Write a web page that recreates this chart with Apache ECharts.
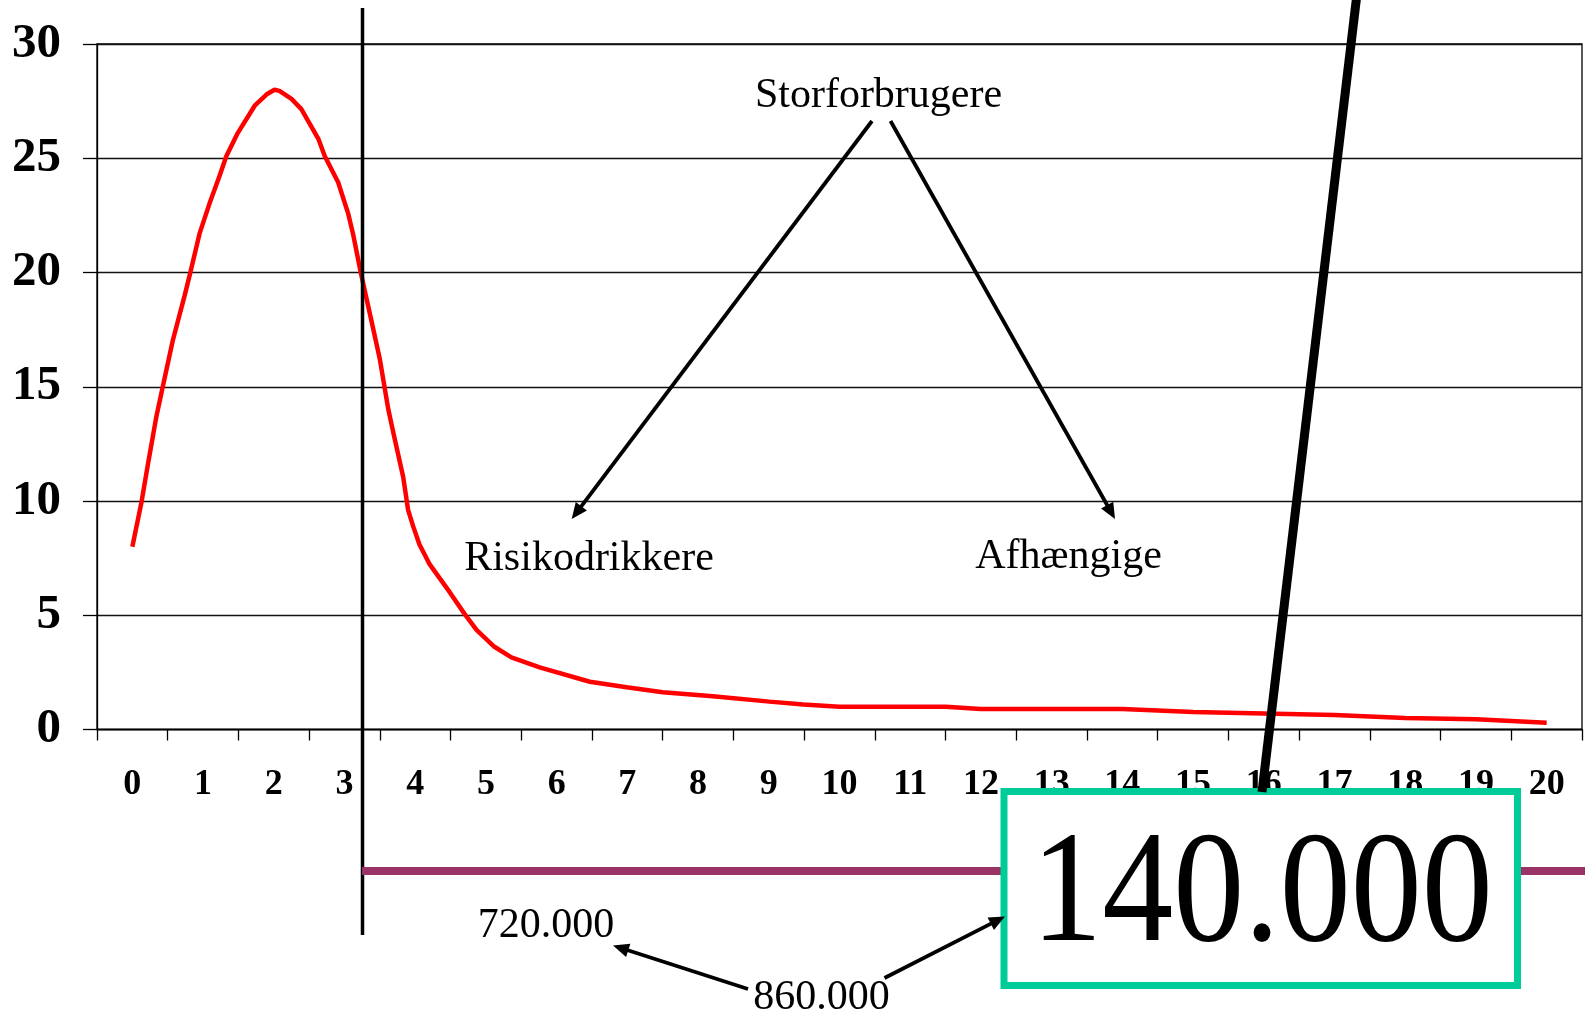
<!DOCTYPE html>
<html>
<head>
<meta charset="utf-8">
<script src="https://cdn.jsdelivr.net/npm/echarts@6/dist/echarts.min.js"></script>
<style>
  html, body { margin: 0; padding: 0; background: #fff; }
  #chart { width: 1585px; height: 1014px; }
</style>
</head>
<body>
<div id="chart"></div>
<script>
// kategorier på x-aksen
var categories = ["0", "1", "2", "3", "4", "5", "6", "7", "8", "9", "10",
  "11", "12", "13", "14", "15", "16", "17", "18", "19", "20"];

// kurvens punkter (x i kategori-enheder, y i procent)
var curveX = [0, 0.13, 0.22, 0.34, 0.43, 0.57, 0.74, 0.82, 0.95, 1.10, 1.23,
  1.33, 1.49, 1.73, 1.90, 2.01, 2.08, 2.25, 2.39, 2.63, 2.72, 2.91, 3.05,
  3.12, 3.23, 3.38, 3.50, 3.62, 3.69, 3.83, 3.90, 3.97, 4.06, 4.20, 4.49,
  4.70, 4.87, 5.12, 5.36, 5.76, 6.47, 6.99, 7.5, 8.21, 9.01, 9.49, 10.0,
  11.5, 12.0, 14.0, 15.0, 17.0, 18.0, 19.0, 20.0];
var curveY = [8.0, 9.96, 11.6, 13.7, 15.0, 17.0, 19.0, 20.0, 21.7, 23.1, 24.2,
  25.1, 26.1, 27.3, 27.8, 28.0, 27.95, 27.6, 27.15, 25.85, 25.1, 23.95, 22.6,
  21.7, 20.0, 17.9, 16.2, 14.0, 13.0, 11.05, 9.6, 8.9, 8.1, 7.25, 6.0,
  5.05, 4.35, 3.62, 3.16, 2.72, 2.09, 1.85, 1.63, 1.46, 1.22, 1.09, 1.0,
  1.0, 0.9, 0.9, 0.77, 0.63, 0.5, 0.45, 0.3];

// tekster
var labelTop = "Storforbrugere";
var labelLeft = "Risikodrikkere";
var labelRight = "Afhængige";
var labelBig = "140.000";
var label720 = "720.000";
var label860 = "860.000";

var serif = '"Liberation Serif", "Times New Roman", serif';

var chart = echarts.init(document.getElementById("chart"));

// pil: linje + trekant
function arrow(x1, y1, x2, y2) {
  var dx = x2 - x1, dy = y2 - y1;
  var len = Math.sqrt(dx * dx + dy * dy);
  var ux = dx / len, uy = dy / len;
  var hl = 16, hw = 7;
  var bx = x2 - ux * hl, by = y2 - uy * hl;
  return [
    {
      type: "line", z: 100,
      shape: { x1: x1, y1: y1, x2: bx + ux * 2, y2: by + uy * 2 },
      style: { stroke: "#000", lineWidth: 3.8 }
    },
    {
      type: "polygon", z: 100,
      shape: { points: [[x2, y2], [bx - uy * hw, by + ux * hw], [bx + uy * hw, by - ux * hw]] },
      style: { fill: "#000" }
    }
  ];
}

function txt(x, y, s, size) {
  return {
    type: "text", z: 100, x: x, y: y,
    style: {
      text: s, fill: "#000", font: size + "px " + serif,
      textAlign: "center", textVerticalAlign: "middle"
    }
  };
}

var bigText = txt(1262, 898, labelBig, 142);
bigText.scaleY = 1.12;
bigText.originX = 0;
bigText.originY = 0;

var graphics = [
  // lodret skillelinje
  { type: "line", z: 95, shape: { x1: 362.5, y1: 8, x2: 362.5, y2: 935 },
    style: { stroke: "#000", lineWidth: 3.5 } },
  // vandret lilla linje
  { type: "line", z: 95, shape: { x1: 362, y1: 871, x2: 1585, y2: 871 },
    style: { stroke: "#993366", lineWidth: 8 } },
  // boks med 140.000
  { type: "rect", z: 98, shape: { x: 1004, y: 791.5, width: 513.5, height: 194 },
    style: { fill: "#fff", stroke: "#00CC99", lineWidth: 7 } },
  bigText,
  // tyk skrå linje
  { type: "line", z: 110, shape: { x1: 1356.5, y1: -2, x2: 1262, y2: 792 },
    style: { stroke: "#000", lineWidth: 9 } },
  txt(878.5, 96, labelTop, 42),
  txt(589, 559, labelLeft, 42),
  txt(1068.5, 557, labelRight, 42),
  txt(546, 926, label720, 42),
  txt(821.5, 998, label860, 42)
]
  .concat(arrow(872, 121, 571.7, 519))
  .concat(arrow(890.5, 121, 1115, 519))
  .concat(arrow(748, 989, 613, 945.5))
  .concat(arrow(884.5, 978, 1005, 916.5));

var points = curveX.map(function (x, i) {
  return [x, curveY[i]];
});

chart.setOption({
  animation: false,
  backgroundColor: "#fff",
  grid: {
    left: 97, right: 3, top: 44, bottom: 284.5,
    show: true, borderColor: "#000", borderWidth: 1.3
  },
  xAxis: [
    {
      type: "category",
      data: categories,
      boundaryGap: true,
      axisLine: { lineStyle: { color: "#000", width: 1.3 } },
      axisTick: { show: true, length: 11, interval: 0, lineStyle: { color: "#000", width: 1.3 } },
      axisLabel: {
        interval: 0, margin: 37, color: "#000",
        fontFamily: serif, fontWeight: "bold", fontSize: 36
      },
      splitLine: { show: false }
    },
    {
      type: "value",
      min: -0.5, max: 20.5,
      show: false
    }
  ],
  yAxis: {
    type: "value",
    min: 0, max: 30, interval: 5,
    axisLine: { show: true, onZero: false, lineStyle: { color: "#000", width: 1.3 } },
    axisTick: { show: true, length: 14, lineStyle: { color: "#000", width: 1.3 } },
    axisLabel: {
      margin: 36, color: "#000", padding: [14, 0, 0, 0],
      fontFamily: serif, fontWeight: "bold", fontSize: 49
    },
    splitLine: { show: true, lineStyle: { color: "#111", width: 1.3 } }
  },
  series: [
    {
      type: "line",
      xAxisIndex: 1,
      data: points,
      showSymbol: false,
      smooth: false,
      lineStyle: { color: "#ff0000", width: 4.5 },
      z: 5
    }
  ],
  graphic: graphics
});
</script>
</body>
</html>
